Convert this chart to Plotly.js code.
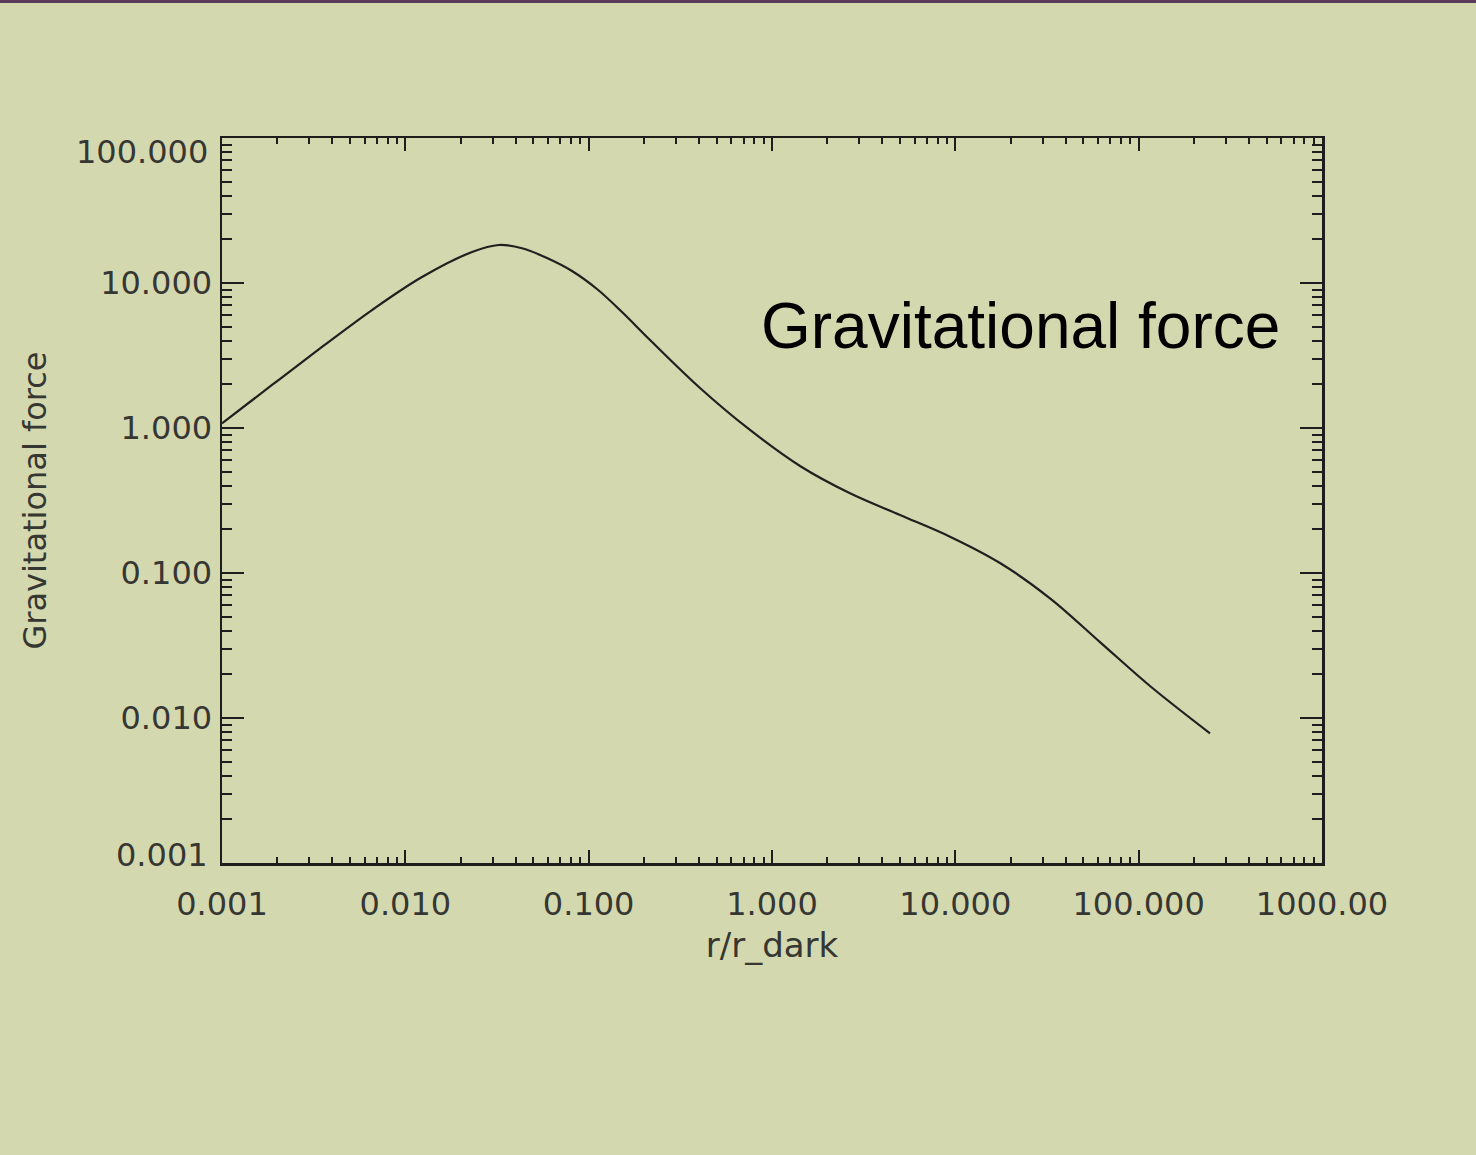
<!DOCTYPE html>
<html>
<head>
<meta charset="utf-8">
<script src="https://cdn.plot.ly/plotly-3.0.1.min.js"></script>
<style>
  html, body { margin: 0; padding: 0; background: #d4d8ae; }
  #chart { width: 1476px; height: 1155px; }
</style>
</head>
<body>
<div id="chart"></div>
<script>
// Radius in units of r_dark
const radius = [0.001, 0.001874, 0.003511, 0.006579, 0.01233, 0.0231, 0.03231, 0.04329, 0.05925, 0.08111, 0.111, 0.152, 0.2161, 0.4048, 0.7586, 1.422, 2.665, 4.991, 9.353, 17.52, 32.84, 61.52, 115.3, 244.9];
// Gravitational force
const force = [1.077, 1.98, 3.62, 6.51, 11.0, 16.36, 18.29, 17.35, 14.87, 12.1, 9.09, 6.31, 4.045, 1.888, 0.969, 0.547, 0.3545, 0.2512, 0.178, 0.1172, 0.0669, 0.0334, 0.01662, 0.00784];

const xTickVals = [0.001, 0.01, 0.1, 1, 10, 100, 1000];
const xTickText = ['0.001', '0.010', '0.100', '1.000', '10.000', '100.000', '1000.00'];
const yTickVals = [0.001, 0.01, 0.1, 1, 10, 100];
const yTickText = ['0.001', '0.010', '0.100', '1.000', '10.000', '100.000'];

const xTitle = 'r/r_dark';
const yTitle = 'Gravitational force';
const annotationText = 'Gravitational force';

const bg = '#d4d8ae';
const ink = '#1e1e1e';
const labelInk = '#363633';
const labelFont = 'DejaVu Sans, sans-serif';
const labelSize = 32;

// End labels of the y axis sit inside the frame's extent (as in the original plot),
// so they are drawn as annotations; the inner ones are regular tick labels.
const yShownText = yTickText.map((t, i) => (i === 0 || i === yTickText.length - 1) ? '' : t);

const trace = {
  x: radius,
  y: force,
  type: 'scatter',
  mode: 'lines',
  line: { color: '#202020', width: 2.2, shape: 'spline', smoothing: 1 },
  hoverinfo: 'skip'
};

const layout = {
  width: 1476,
  height: 1155,
  paper_bgcolor: bg,
  plot_bgcolor: bg,
  showlegend: false,
  margin: { l: 222, r: 154, t: 138, b: 292 },
  xaxis: {
    type: 'log',
    range: [-3, 3],
    tickmode: 'array',
    tickvals: xTickVals,
    ticktext: xTickText,
    ticks: 'inside',
    ticklen: 13,
    tickwidth: 2,
    tickcolor: ink,
    showline: true,
    linecolor: ink,
    linewidth: 2.5,
    mirror: 'ticks',
    showgrid: false,
    zeroline: false,
    ticklabelstandoff: 11,
    tickfont: { family: labelFont, size: labelSize, color: labelInk },
    minor: { ticks: 'inside', ticklen: 6, tickwidth: 2, tickcolor: ink, dtick: 'D1', showgrid: false },
    title: { text: xTitle, font: { family: labelFont, size: 34, color: labelInk }, standoff: 12 }
  },
  yaxis: {
    type: 'log',
    range: [-3, 2],
    tickmode: 'array',
    tickvals: yTickVals,
    ticktext: yShownText,
    ticks: 'inside',
    ticklen: 22,
    tickwidth: 2,
    tickcolor: ink,
    showline: true,
    linecolor: ink,
    linewidth: 2.5,
    mirror: 'ticks',
    showgrid: false,
    zeroline: false,
    ticklabelstandoff: 1,
    tickfont: { family: labelFont, size: labelSize, color: labelInk },
    minor: { ticks: 'inside', ticklen: 10, tickwidth: 2, tickcolor: ink, dtick: 'D1', showgrid: false },
    title: { text: yTitle, font: { family: labelFont, size: 32, color: labelInk }, standoff: 44 }
  },
  annotations: [
    {
      text: annotationText,
      xref: 'paper', yref: 'paper',
      x: 0.4882, y: 0.7407,
      xanchor: 'left', yanchor: 'middle',
      showarrow: false,
      font: { family: 'Liberation Sans, Arial, sans-serif', size: 64, color: '#000' }
    },
    {
      text: yTickText[yTickText.length - 1],
      xref: 'paper', yref: 'paper',
      x: -0.0105, y: 0.9807,
      xanchor: 'right', yanchor: 'middle',
      showarrow: false,
      font: { family: labelFont, size: labelSize, color: labelInk }
    },
    {
      text: yTickText[0],
      xref: 'paper', yref: 'paper',
      x: -0.0105, y: 0.011,
      xanchor: 'right', yanchor: 'middle',
      showarrow: false,
      font: { family: labelFont, size: labelSize, color: labelInk }
    }
  ],
  shapes: [{
    type: 'rect',
    xref: 'paper', yref: 'paper',
    x0: -0.21, x1: 1.15,
    y0: 1.1862, y1: 1.195,
    line: { width: 0 },
    fillcolor: '#5b3a5e'
  }]
};

Plotly.newPlot('chart', [trace], layout, { displayModeBar: false, staticPlot: true });
</script>
</body>
</html>
